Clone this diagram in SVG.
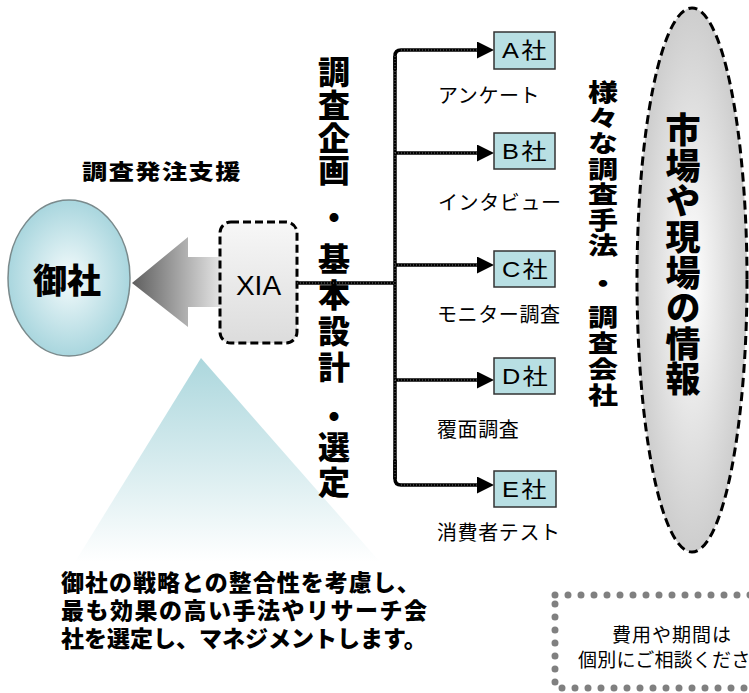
<svg xmlns="http://www.w3.org/2000/svg" width="749" height="693" viewBox="0 0 749 693">
<defs>
<style>
.jp{font-family:"Noto Sans CJK JP","Liberation Sans",sans-serif;fill:#000}
.b{font-weight:900}
.v{writing-mode:vertical-rl}
.lat{font-family:"Liberation Sans","Noto Sans CJK JP",sans-serif;fill:#000}
.desc{font-family:"Liberation Sans","Noto Sans CJK JP",sans-serif;font-weight:900;font-size:23px;fill:#000}
.conn{fill:none;stroke:#000;stroke-width:3.5}
.tex{fill:none;stroke:#fff;stroke-width:0.8;stroke-dasharray:1 2;opacity:0.55}
.box{fill:#b8dfe3;stroke:#333;stroke-width:1.5}
.sub{font-size:20px;letter-spacing:0.6px}
.bl{font-size:22px;letter-spacing:2px}
</style>
<radialGradient id="gOnsha" cx="0.5" cy="0.5" r="0.5">
<stop offset="0" stop-color="#f4fbfc"/>
<stop offset="1" stop-color="#a9d6de"/>
</radialGradient>
<linearGradient id="gArrow" x1="0" y1="0" x2="1" y2="0">
<stop offset="0" stop-color="#5e5e5e"/>
<stop offset="1" stop-color="#ececec"/>
</linearGradient>
<linearGradient id="gXia" x1="0" y1="0" x2="0" y2="1">
<stop offset="0" stop-color="#f7f7f7"/>
<stop offset="1" stop-color="#dcdcdc"/>
</linearGradient>
<radialGradient id="gMarket" cx="0.5" cy="0.5" r="0.5">
<stop offset="0" stop-color="#ffffff"/>
<stop offset="1" stop-color="#cdcdcd"/>
</radialGradient>
<linearGradient id="gTri" x1="0" y1="0" x2="0" y2="1">
<stop offset="0" stop-color="#acd7dd"/>
<stop offset="1" stop-color="#ffffff"/>
</linearGradient>
<marker id="ah" viewBox="0 0 17 17" refX="0" refY="8.5" markerWidth="17" markerHeight="17" markerUnits="userSpaceOnUse" orient="auto">
<path d="M0,0 L17,8.5 L0,17 z" fill="#000"/>
</marker>
</defs>
<rect width="749" height="693" fill="#fff"/>

<g id="triangle">
<polygon points="201,358 75,562 380,562" fill="url(#gTri)"/>
</g>

<g id="market">
<ellipse cx="692" cy="280" rx="55" ry="272" fill="url(#gMarket)" stroke="#000" stroke-width="3" stroke-dasharray="9 5"/>
<text class="jp b v" x="683" y="112.5" font-size="35" letter-spacing="0.6">市場や現場の情報</text>
</g>

<g id="title">
<text class="jp b" transform="translate(82,179) scale(1.2,1)" x="0" y="0" font-size="21" letter-spacing="1.2">調査発注支援</text>
</g>

<g id="onsha">
<ellipse cx="69" cy="278" rx="61" ry="78" fill="url(#gOnsha)" stroke="#7a8a8c" stroke-width="1.5"/>
<text class="jp b" x="67" y="293" font-size="34" text-anchor="middle">御社</text>
</g>

<g id="arrow">
<polygon points="132,283 188,237 188,257 226,257 226,307 188,307 188,327" fill="url(#gArrow)"/>
</g>

<g id="xia">
<rect x="220" y="222" width="77" height="121" rx="11" fill="url(#gXia)" stroke="#000" stroke-width="3" stroke-dasharray="8 4"/>
<text class="lat" x="258.5" y="295" font-size="28" text-anchor="middle">XIA</text>
</g>

<g id="planning">
<text class="jp b v" x="334" y="56" font-size="32" letter-spacing="0.7">調査企画</text>
<text class="jp b v" x="334" y="202" font-size="32">・</text>
<text class="jp b v" x="334" y="243" font-size="32" letter-spacing="4">基本設計</text>
<text class="jp b v" x="334" y="401" font-size="32">・</text>
<text class="jp b v" x="334" y="431" font-size="32" letter-spacing="3">選定</text>
</g>

<g id="methods">
<g transform="translate(603,0) scale(1.25,1)">
<text class="jp b v" x="0" y="80" font-size="24" letter-spacing="1.5">様々な調査手法</text>
<text class="jp b v" x="0" y="271" font-size="24">・</text>
<text class="jp b v" x="0" y="305" font-size="24" letter-spacing="2">調査会社</text>
</g>
</g>

<g id="connectors">
<path class="conn" d="M297,283 H395"/>
<path class="conn" d="M395,56 V479"/>
<path class="conn" d="M395,70 V56 Q395,50 401,50 H477" marker-end="url(#ah)"/>
<path class="conn" d="M395,153 H477" marker-end="url(#ah)"/>
<path class="conn" d="M395,265 H477" marker-end="url(#ah)"/>
<path class="conn" d="M395,380 H477" marker-end="url(#ah)"/>
<path class="conn" d="M395,460 V479 Q395,485 401,485 H477" marker-end="url(#ah)"/>
<path class="tex" d="M297,283 H395 M395,56 V479 M401,50 H477 M395,153 H477 M395,265 H477 M395,380 H477 M401,485 H477"/>
</g>

<g id="companyA">
<rect class="box" x="494" y="32" width="61" height="37"/>
<text class="lat bl" transform="translate(502,58) scale(1.15,1)">A社</text>
<text class="jp sub" x="438" y="103">アンケート</text>
</g>
<g id="companyB">
<rect class="box" x="494" y="133" width="61" height="36"/>
<text class="lat bl" transform="translate(502,159) scale(1.15,1)">B社</text>
<text class="jp sub" x="438" y="210">インタビュー</text>
</g>
<g id="companyC">
<rect class="box" x="494" y="251" width="61" height="36"/>
<text class="lat bl" transform="translate(502,277) scale(1.15,1)">C社</text>
<text class="jp sub" x="437" y="322">モニター調査</text>
</g>
<g id="companyD">
<rect class="box" x="494" y="358" width="61" height="36"/>
<text class="lat bl" transform="translate(502,384) scale(1.15,1)">D社</text>
<text class="jp sub" x="437" y="437">覆面調査</text>
</g>
<g id="companyE">
<rect class="box" x="494" y="471" width="62" height="36"/>
<text class="lat bl" transform="translate(502,497) scale(1.15,1)">E社</text>
<text class="jp sub" x="437" y="540">消費者テスト</text>
</g>

<g id="description">
<text class="desc" x="61" y="591" letter-spacing="1">御社の戦略との整合性を考慮し、</text>
<text class="desc" x="61" y="619" letter-spacing="1.5">最も効果の高い手法やリサーチ会</text>
<text class="desc" x="61" y="647" letter-spacing="0">社を選定し、マネジメントします。</text>
</g>

<g id="note">
<rect x="555" y="595" width="230" height="93" fill="none" stroke="#808080" stroke-width="7" stroke-linecap="round" stroke-dasharray="0 13"/>
<text class="jp" x="672" y="642" font-size="19" letter-spacing="1" text-anchor="middle">費用や期間は</text>
<text class="jp" x="578" y="667" font-size="19" letter-spacing="0.2">個別にご相談くださ</text>
</g>
</svg>
